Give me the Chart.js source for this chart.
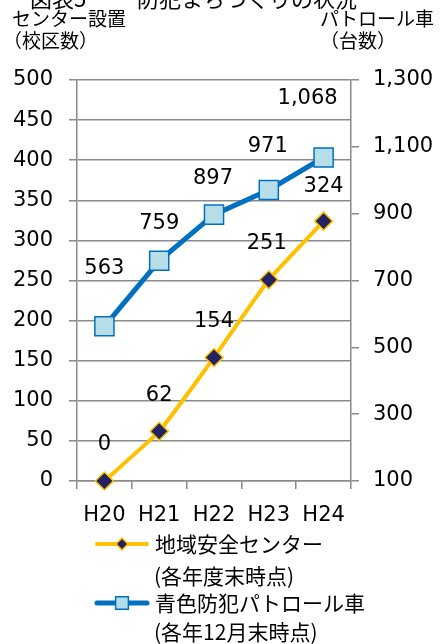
<!DOCTYPE html>
<html><head><meta charset="utf-8">
<script src="https://cdn.jsdelivr.net/npm/chart.js@4"></script>
<style>html,body{margin:0;padding:0;background:#fff;}canvas{display:block;}</style>
</head><body>
<canvas id="c" width="444" height="644"></canvas>
<script>
// ---- data ----
const categories = ['H20', 'H21', 'H22', 'H23', 'H24'];
const centerValues = [0, 62, 154, 251, 324];        // 地域安全センター (left axis)
const patrolValues = [563, 759, 897, 971, 1068];    // 青色防犯パトロール車 (right axis)
const centerLegend = ['地域安全センター', '(各年度末時点)'];
const patrolLegend = ['青色防犯パトロール車', '(各年12月末時点)'];
const leftAxisTitle = ['センター設置', '（校区数）'];
const rightAxisTitle = ['パトロール車', '（台数）'];
const chartTitle = ['図表5', '防犯まちづくりの状況'];
const leftTicks = { min: 0, max: 500, step: 50 };
const rightTicks = { min: 100, max: 1300, step: 200 };

const NUM_FONT = '21px "DejaVu Sans", "Liberation Sans", sans-serif';
const JP = '"Noto Sans CJK JP", "Noto Sans", sans-serif';
const fmt = v => Number(v).toLocaleString('en-US');

const YELLOW = '#FFC000', NAVY = '#232262', BLUE = '#0070C0', CYAN = '#B7DEE8', GRID = '#8a8a8a';

const overlay = {
  id: 'overlay',
  afterDatasetsDraw(chart, args, opts) {
    const ctx = chart.ctx;
    ctx.save();
    ctx.fillStyle = '#000';
    ctx.font = NUM_FONT;
    ctx.textAlign = 'center';
    ctx.textBaseline = 'middle';
    chart.data.datasets.forEach((ds, di) => {
      const meta = chart.getDatasetMeta(di);
      meta.data.forEach((pt, i) => {
        const off = opts.offsets[di][i];
        ctx.fillText(fmt(ds.data[i]), pt.x + off[0], pt.y + off[1]);
      });
    });
    ctx.restore();
  },
  afterDraw(chart, args, opts) {
    const ctx = chart.ctx;
    ctx.save();
    ctx.fillStyle = '#000';
    ctx.textAlign = 'left';
    // chart title (cut at top)
    ctx.font = '22px ' + JP;
    ctx.textBaseline = 'alphabetic';
    ctx.fillText(chartTitle[0], 30, 7);
    ctx.fillText(chartTitle[1], 137, 7);
    // axis titles
    ctx.textBaseline = 'middle';
    ctx.font = '19px ' + JP;
    ctx.fillText(leftAxisTitle[0], 12, 19);
    ctx.fillText(leftAxisTitle[1], 3, 41);
    ctx.fillText(rightAxisTitle[0], 320, 19);
    ctx.fillText(rightAxisTitle[1], 320, 41);
    // legend
    const items = [
      { ds: chart.data.datasets[0], lines: centerLegend, y: 544, y2: 576, r: 6 },
      { ds: chart.data.datasets[1], lines: patrolLegend, y: 603, y2: 632, r: 9 }
    ];
    items.forEach(it => {
      ctx.save();
      ctx.strokeStyle = it.ds.borderColor;
      ctx.lineWidth = it.ds.borderWidth;
      ctx.lineCap = 'round';
      ctx.beginPath();
      ctx.moveTo(97, it.y); ctx.lineTo(147, it.y);
      ctx.stroke();
      ctx.fillStyle = it.ds.pointBackgroundColor;
      ctx.strokeStyle = it.ds.pointBorderColor;
      ctx.lineWidth = it.ds.pointBorderWidth;
      Chart.helpers.drawPoint(ctx, { pointStyle: it.ds.pointStyle, radius: it.r, borderWidth: it.ds.pointBorderWidth, rotation: 0 }, 122, it.y);
      ctx.restore();
      ctx.font = '21px ' + JP;
      ctx.fillStyle = '#000';
      ctx.textBaseline = 'middle';
      ctx.fillText(it.lines[0], 155, it.y);
      ctx.fillText(it.lines[1], 154, it.y2);
    });
    ctx.restore();
  }
};

new Chart(document.getElementById('c'), {
  type: 'line',
  data: {
    labels: categories,
    datasets: [
      {
        label: centerLegend.join(''),
        data: centerValues,
        yAxisID: 'y',
        clip: false,
        borderColor: YELLOW,
        borderWidth: 4,
        tension: 0.12,
        pointStyle: 'rectRot',
        pointRadius: 9,
        pointHoverRadius: 9,
        pointBackgroundColor: NAVY,
        pointBorderColor: YELLOW,
        pointBorderWidth: 1.5
      },
      {
        label: patrolLegend.join(''),
        data: patrolValues,
        yAxisID: 'y1',
        clip: false,
        borderColor: BLUE,
        borderWidth: 5,
        tension: 0,
        pointStyle: 'rect',
        pointRadius: 13.5,
        pointHoverRadius: 13.5,
        pointBackgroundColor: CYAN,
        pointBorderColor: BLUE,
        pointBorderWidth: 1.5
      }
    ]
  },
  options: {
    responsive: false,
    animation: false,
    events: [],
    layout: { padding: { top: 80, bottom: 113, left: 0, right: 0 } },
    plugins: {
      legend: { display: false },
      tooltip: { enabled: false },
      overlay: {
        offsets: [
          [[0, -36], [0, -36], [0, -36], [-2, -36], [0, -35]],
          [[0, -58], [0, -37], [-1, -36], [-1, -43], [-16, -59]]
        ]
      }
    },
    scales: {
      x: {
        offset: true,
        grid: { offset: true, drawOnChartArea: false, color: GRID, lineWidth: 1.5, tickLength: 8 },
        border: { display: true, color: GRID, width: 1.5 },
        ticks: { color: '#000', font: { family: 'DejaVu Sans', size: 21 }, padding: 14, maxRotation: 0, autoSkip: false },
        afterFit(s) { s.height = 50; }
      },
      y: {
        position: 'left',
        min: leftTicks.min, max: leftTicks.max,
        ticks: { stepSize: leftTicks.step, color: '#000', font: { family: 'DejaVu Sans', size: 21 }, padding: 16 },
        grid: { color: GRID, lineWidth: 1.5, tickLength: 8 },
        border: { display: true, color: GRID, width: 1.5 },
        afterFit(s) { s.width = 77; }
      },
      y1: {
        position: 'right',
        min: rightTicks.min, max: rightTicks.max,
        ticks: { stepSize: rightTicks.step, color: '#000', font: { family: 'DejaVu Sans', size: 21 }, padding: 14, callback: v => fmt(v) },
        grid: { drawOnChartArea: false, color: GRID, lineWidth: 1.5, tickLength: 8 },
        border: { display: true, color: GRID, width: 1.5 },
        afterFit(s) { s.width = 93; }
      }
    }
  },
  plugins: [overlay]
});
</script>
</body></html>
